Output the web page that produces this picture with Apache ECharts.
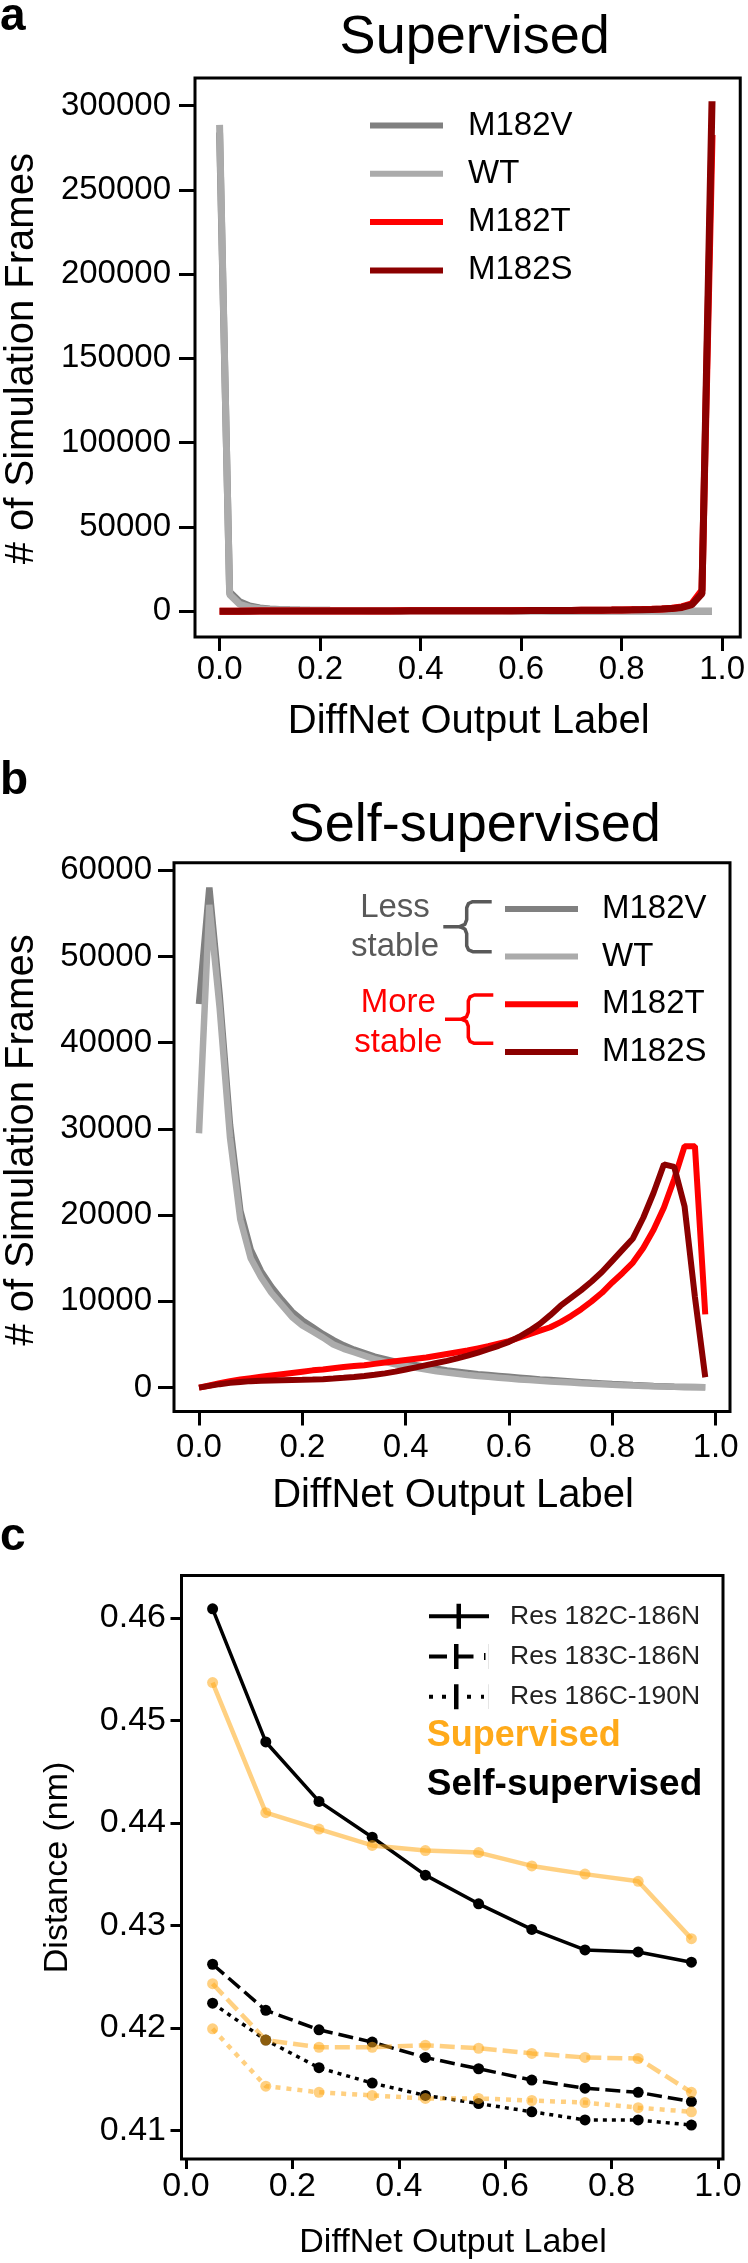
<!DOCTYPE html>
<html>
<head>
<meta charset="utf-8">
<script src="https://cdn.jsdelivr.net/npm/echarts@6/dist/echarts.min.js"></script>
<style>
  html, body { margin: 0; padding: 0; background: #fff; }
  #main { width: 748px; height: 2263px; }
</style>
</head>
<body>
<div id="main"></div>
<script>
var FONT = '"Liberation Sans", Arial, sans-serif';

// DiffNet output label bins (panels a, b)
var bins = [0, 0.02, 0.04, 0.06, 0.08, 0.1, 0.12, 0.14, 0.16, 0.18,
  0.2, 0.22, 0.24, 0.26, 0.28, 0.3, 0.32, 0.34, 0.36, 0.38,
  0.4, 0.42, 0.44, 0.46, 0.48, 0.5, 0.52, 0.54, 0.56, 0.58,
  0.6, 0.62, 0.64, 0.66, 0.68, 0.7, 0.72, 0.74, 0.76, 0.78,
  0.8, 0.82, 0.84, 0.86, 0.88, 0.9, 0.92, 0.94, 0.96, 0.98];

// a: supervised, # of simulation frames
var supM182V = [284000, 11500, 5600, 3200, 2000, 1400, 1100, 900, 780, 690,
  620, 570, 530, 500, 470, 450, 430, 410, 400, 390,
  380, 370, 360, 350, 340, 330, 320, 310, 300, 290,
  280, 270, 260, 250, 240, 230, 220, 210, 200, 190,
  180, 170, 160, 150, 140, 130, 120, 100, 80, 60];
var supWT = [288500, 10000, 4200, 2300, 1500, 1100, 900, 760, 660, 590,
  530, 490, 460, 430, 410, 390, 380, 370, 360, 350,
  340, 330, 320, 310, 300, 290, 280, 270, 260, 250,
  240, 230, 220, 210, 200, 190, 180, 170, 160, 150,
  140, 130, 120, 110, 100, 90, 80, 70, 60, 50];
var supM182T = [60, 80, 100, 110, 120, 130, 140, 150, 160, 170,
  180, 190, 200, 210, 220, 230, 240, 250, 260, 270,
  280, 290, 300, 310, 320, 330, 340, 350, 370, 390,
  410, 430, 450, 480, 510, 540, 580, 620, 670, 730,
  800, 900, 1000, 1150, 1400, 1800, 2600, 4500, 12500, 282500];
var supM182S = [50, 70, 90, 100, 110, 120, 130, 140, 150, 160,
  170, 180, 190, 200, 210, 220, 230, 240, 250, 260,
  270, 280, 290, 300, 310, 320, 330, 340, 350, 370,
  390, 410, 430, 460, 490, 520, 560, 600, 650, 700,
  770, 850, 950, 1100, 1300, 1600, 2300, 4000, 10500, 302500];

// b: self-supervised, # of simulation frames
var selfM182V = [44500, 58000, 45500, 30500, 20500, 16000, 13500, 11700, 10200, 8800,
  7800, 7000, 6200, 5500, 4900, 4400, 4000, 3600, 3300, 3000,
  2800, 2600, 2400, 2200, 2000, 1850, 1700, 1550, 1450, 1350,
  1250, 1150, 1050, 950, 870, 790, 710, 630, 550, 480,
  410, 350, 290, 240, 190, 150, 110, 80, 60, 40];
var selfWT = [29500, 56000, 44000, 29000, 19500, 15000, 12800, 11000, 9600, 8200,
  7200, 6500, 5800, 5000, 4500, 4100, 3700, 3300, 3000, 2700,
  2500, 2300, 2100, 1900, 1750, 1600, 1450, 1350, 1250, 1150,
  1050, 950, 870, 800, 720, 650, 580, 500, 440, 380,
  320, 270, 230, 190, 150, 120, 90, 70, 50, 30];
var selfM182T = [0, 250, 500, 750, 950, 1100, 1250, 1400, 1550, 1700,
  1850, 2000, 2100, 2250, 2400, 2500, 2600, 2750, 2900, 3050,
  3200, 3350, 3500, 3700, 3900, 4100, 4300, 4550, 4800, 5100,
  5400, 5800, 6200, 6600, 7000, 7600, 8300, 9100, 10000, 11000,
  12200, 13300, 14500, 16200, 18300, 20900, 24200, 28000, 28000, 8500];
var selfM182S = [0, 200, 400, 550, 650, 750, 800, 830, 860, 880,
  900, 930, 980, 1050, 1130, 1230, 1350, 1480, 1650, 1850,
  2100, 2350, 2600, 2850, 3100, 3400, 3700, 4050, 4450, 4850,
  5300, 5900, 6600, 7400, 8400, 9500, 10400, 11300, 12300, 13400,
  14700, 16000, 17300, 19700, 22600, 25900, 25600, 21000, 10500, 1200];

// c: distance (nm) per output label bin
var labelC = [0.05, 0.15, 0.25, 0.35, 0.45, 0.55, 0.65, 0.75, 0.85, 0.95];
var self182 = [0.4609, 0.4479, 0.4421, 0.4386, 0.4349, 0.4321, 0.4296, 0.4276, 0.4274, 0.4264];
var sup182  = [0.4537, 0.4410, 0.4394, 0.4378, 0.4373, 0.4371, 0.4358, 0.4350, 0.4343, 0.4287];
var self183 = [0.4262, 0.4217, 0.4198, 0.4186, 0.4171, 0.4160, 0.4149, 0.4141, 0.4137, 0.4128];
var sup183  = [0.4243, 0.4188, 0.4181, 0.4181, 0.4183, 0.4180, 0.4175, 0.4171, 0.4170, 0.4137];
var self186 = [0.4224, 0.4188, 0.4161, 0.4146, 0.4134, 0.4126, 0.4118, 0.4110, 0.4110, 0.4105];
var sup186  = [0.4199, 0.4143, 0.4137, 0.4134, 0.4131, 0.4131, 0.4129, 0.4127, 0.4122, 0.4118];

var xTicks = [0, 0.2, 0.4, 0.6, 0.8, 1.0];
var yTicksA = [0, 50000, 100000, 150000, 200000, 250000, 300000];
var yTicksB = [0, 10000, 20000, 30000, 40000, 50000, 60000];
var yTicksC = [0.41, 0.42, 0.43, 0.44, 0.45, 0.46];

var C_V = '#808080', C_WT = '#ababab', C_T = '#ff0000', C_S = '#8b0000';
var C_ORANGE = '#ffaa1a';

function pairs(xs, ys) {
  return xs.map(function (x, i) { return [x, ys[i]]; });
}

function xAxisFor(idx, min, max, tickLen, margin, fs) {
  return {
    type: 'value', gridIndex: idx, min: min, max: max, position: 'bottom',
    axisLine: { show: false, onZero: false },
    splitLine: { show: false },
    axisTick: { show: true, inside: false, length: tickLen, customValues: xTicks,
      lineStyle: { color: '#000', width: 3 } },
    axisLabel: { customValues: xTicks, margin: margin, fontSize: fs, fontFamily: FONT, color: '#000',
      formatter: function (v) { return v.toFixed(1); } }
  };
}

function yAxisFor(idx, min, max, ticks, tickLen, margin, fs, fmt) {
  return {
    type: 'value', gridIndex: idx, min: min, max: max, position: 'left',
    axisLine: { show: false, onZero: false },
    splitLine: { show: false },
    axisTick: { show: true, inside: false, length: tickLen, customValues: ticks,
      lineStyle: { color: '#000', width: 3 } },
    axisLabel: { customValues: ticks, margin: margin, fontSize: fs, fontFamily: FONT, color: '#000',
      formatter: fmt }
  };
}

function histLine(name, color, xIdx, xs, ys, w) {
  return {
    name: name, type: 'line', xAxisIndex: xIdx, yAxisIndex: xIdx,
    data: pairs(xs, ys), symbol: 'none', showSymbol: false,
    itemStyle: { color: color },
    lineStyle: { color: color, width: w },
    emphasis: { disabled: true }
  };
}

function distLine(name, color, ys, dash, w, op) {
  return {
    name: name, type: 'line', xAxisIndex: 2, yAxisIndex: 2,
    data: pairs(labelC, ys), symbol: 'circle', symbolSize: 11,
    itemStyle: { color: color, opacity: op },
    lineStyle: { color: color, width: w, type: dash, opacity: op },
    emphasis: { disabled: true }
  };
}

function txt(text, x, y, size, opts) {
  opts = opts || {};
  return {
    type: 'text', x: x, y: y, rotation: opts.rot || 0, z: 100,
    style: {
      text: text, x: 0, y: 0,
      font: (opts.bold ? 'bold ' : '') + size + 'px ' + FONT,
      fill: opts.color || '#000',
      textAlign: opts.align || 'center', align: opts.align || 'center',
      textVerticalAlign: 'middle', verticalAlign: 'middle'
    }
  };
}

// curly brace as two polylines (upper and lower half)
function brace(xv, yTop, yBot, xEnd, xTip, color) {
  var yMid = (yTop + yBot) / 2;
  var upper = [[xEnd, yTop], [xv + 6, yTop], [xv + 1.8, yTop + 1.8], [xv, yTop + 6],
    [xv, yMid - 7], [xv - 1.8, yMid - 2.3], [xv - 7, yMid], [xTip, yMid]];
  var lower = [[xv - 7, yMid], [xv - 1.8, yMid + 2.3], [xv, yMid + 7],
    [xv, yBot - 6], [xv + 1.8, yBot - 1.8], [xv + 6, yBot], [xEnd, yBot]];
  return [upper, lower].map(function (pts) {
    return { type: 'polyline', z: 100, shape: { points: pts },
      style: { stroke: color, lineWidth: 3.5, fill: null, lineJoin: 'round' } };
  });
}

var legendText = function (fs, padLeft, color) {
  return { fontSize: fs, lineHeight: fs, fontFamily: FONT, color: color, padding: [0, 0, 0, padLeft] };
};

var chart = echarts.init(document.getElementById('main'), null, { renderer: 'canvas' });

var graphics = [
  txt('a', 0, 17, 46, { bold: true, align: 'left' }),
  txt('Supervised', 474.7, 38, 54),
  txt('# of Simulation Frames', 21.5, 358.7, 40, { rot: Math.PI / 2 }),
  txt('DiffNet Output Label', 468.7, 722, 40),

  txt('b', 0, 781, 46, { bold: true, align: 'left' }),
  txt('Self-supervised', 474.7, 826, 54),
  txt('# of Simulation Frames', 21.5, 1140, 40, { rot: Math.PI / 2 }),
  txt('DiffNet Output Label', 453, 1496, 40),
  txt('Less', 395, 908, 33, { color: '#595959' }),
  txt('stable', 395, 946.7, 33, { color: '#595959' }),
  txt('More', 398.3, 1003.3, 33, { color: '#ff0000' }),
  txt('stable', 398.3, 1043.3, 33, { color: '#ff0000' }),

  txt('c', 0, 1537, 46, { bold: true, align: 'left' }),
  txt('Distance (nm)', 57.3, 1867.4, 34, { rot: Math.PI / 2 }),
  txt('DiffNet Output Label', 453, 2243, 34),
  txt('Supervised', 426.7, 1736, 36, { bold: true, align: 'left', color: C_ORANGE }),
  txt('Self-supervised', 426.7, 1785, 37, { bold: true, align: 'left' })
].concat(brace(466.7, 901.7, 951.7, 491.7, 443.3, '#595959'))
 .concat(brace(468.3, 995, 1043.3, 493.3, 445, '#ff0000'));

var option = {
  animation: false,
  backgroundColor: '#fff',
  grid: [
    { left: 195, top: 78, width: 548.5, height: 559, show: true, borderColor: '#000', borderWidth: 3, backgroundColor: 'transparent' },
    { left: 174, top: 862.7, width: 556, height: 548.8, show: true, borderColor: '#000', borderWidth: 3, backgroundColor: 'transparent' },
    { left: 181.5, top: 1575.4, width: 541.5, height: 583.6, show: true, borderColor: '#000', borderWidth: 3, backgroundColor: 'transparent' }
  ],
  xAxis: [
    xAxisFor(0, -0.0489, 1.0362, 14, 16.5, 33),
    xAxisFor(1, -0.0484, 1.0279, 14, 19.7, 33),
    xAxisFor(2, -0.00846, 1.0094, 10, 11, 34)
  ],
  yAxis: [
    yAxisFor(0, -15243, 316311, yTicksA, 16, 24, 33, function (v) { return String(v); }),
    yAxisFor(1, -2772, 60881, yTicksB, 16, 22, 33, function (v) { return String(v); }),
    yAxisFor(2, 0.40719, 0.46416, yTicksC, 11, 15.5, 34, function (v) { return v.toFixed(2); })
  ],
  legend: [
    {
      data: ['M182V', 'WT', 'M182T', 'M182S'], orient: 'vertical', left: 365, top: 104,
      icon: 'rect', itemWidth: 73, itemHeight: 6, itemGap: 15.3, selectedMode: false,
      itemStyle: { borderWidth: 0 }, textStyle: legendText(33, 20, '#000')
    },
    {
      data: ['M182V', 'WT', 'M182T', 'M182S'], orient: 'vertical', left: 500, top: 887.4,
      icon: 'rect', itemWidth: 73, itemHeight: 6, itemGap: 14.7, selectedMode: false,
      itemStyle: { borderWidth: 0 }, textStyle: legendText(33, 19, '#000')
    },
    {
      data: [
        { name: 'Res 182C-186N', icon: 'path://M0,10.5h60v4H0Z M27.5,0h4.5v25h-4.5Z' },
        { name: 'Res 183C-186N', icon: 'path://M0,10.5h18v4H0Z M25,0h4.5v25h-4.5Z M29.5,10.5h15v4h-15Z M55,9h1.5v7h-1.5Z M59.9,0h0.1v25h-0.1Z' },
        { name: 'Res 186C-190N', icon: 'path://M0,10.5h4v4H0Z M13,10.5h4v4h-4Z M25,0h4.5v25h-4.5Z M38,10.5h4v4h-4Z M52,10.5h3v4h-3Z M59.9,0h0.1v25h-0.1Z' }
      ],
      orient: 'vertical', left: 424, top: 1597.8,
      itemWidth: 60, itemHeight: 25, itemGap: 13.2, selectedMode: false,
      itemStyle: { borderWidth: 0 }, textStyle: legendText(26.5, 16, '#222')
    }
  ],
  graphic: { elements: graphics },
  series: [
    histLine('M182V', C_V, 0, bins, supM182V, 7),
    histLine('WT', C_WT, 0, bins, supWT, 7),
    histLine('M182T', C_T, 0, bins, supM182T, 7),
    histLine('M182S', C_S, 0, bins, supM182S, 7),

    histLine('M182V', C_V, 1, bins, selfM182V, 6.5),
    histLine('WT', C_WT, 1, bins, selfWT, 6.5),
    histLine('M182T', C_T, 1, bins, selfM182T, 6),
    histLine('M182S', C_S, 1, bins, selfM182S, 6),

    distLine('Res 182C-186N', '#000', self182, 'solid', 3.5, 1),
    distLine('Res 183C-186N', '#000', self183, [15, 6], 3.5, 1),
    distLine('Res 186C-190N', '#000', self186, [4, 5], 3.5, 1),
    distLine('Supervised 182C-186N', C_ORANGE, sup182, 'solid', 4.5, 0.55),
    distLine('Supervised 183C-186N', C_ORANGE, sup183, [15, 6], 4.5, 0.55),
    distLine('Supervised 186C-190N', C_ORANGE, sup186, [5, 6], 4.5, 0.55)
  ]
};

chart.setOption(option);
</script>
</body>
</html>
